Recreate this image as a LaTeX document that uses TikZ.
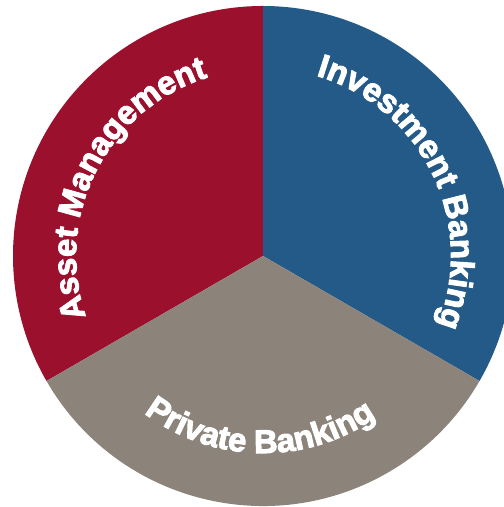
\documentclass[tikz,border=0pt]{standalone}
\usepackage{fontspec}
\setmainfont{Liberation Sans}
\newfontfamily\heavyfont{Liberation Sans Bold}[FakeBold=3]
\usetikzlibrary{decorations.text}
\definecolor{amred}{RGB}{155,16,45}
\definecolor{ibblue}{RGB}{36,90,135}
\definecolor{pbgrey}{RGB}{140,132,123}
\tikzset{
  sector/.style={draw=none},
  arclabel/.style={decorate, decoration={text along path, text align=center, text={#1}}}
}
\newcommand{\lblfmt}{|\fontsize{33}{33}\heavyfont\color{white}|}
\begin{document}
\begin{tikzpicture}[x=1bp,y=1bp]
\useasboundingbox (0,0) rectangle (504,507);
\clip (0,0) rectangle (504,507);
\coordinate (c) at (263,251);
\fill[amred,sector] (c) -- ++(90:250) arc[start angle=90,end angle=210,radius=250] -- cycle;
\fill[ibblue,sector] (c) -- ++(-30:250) arc[start angle=-30,end angle=90,radius=250] -- cycle;
\fill[pbgrey,sector] (c) -- ++(210:250) arc[start angle=210,end angle=330,radius=250] -- cycle;
\path[arclabel={\lblfmt Asset Management}] (c) ++(213:187) arc[start angle=213,end angle=93,radius=187];
\path[arclabel={\lblfmt Investment Banking}] (c) ++(86:188) arc[start angle=86,end angle=-34,radius=188];
\path[arclabel={\lblfmt Private Banking}] (c) ++(209:197) arc[start angle=209,end angle=329,radius=197];
\end{tikzpicture}
\end{document}
